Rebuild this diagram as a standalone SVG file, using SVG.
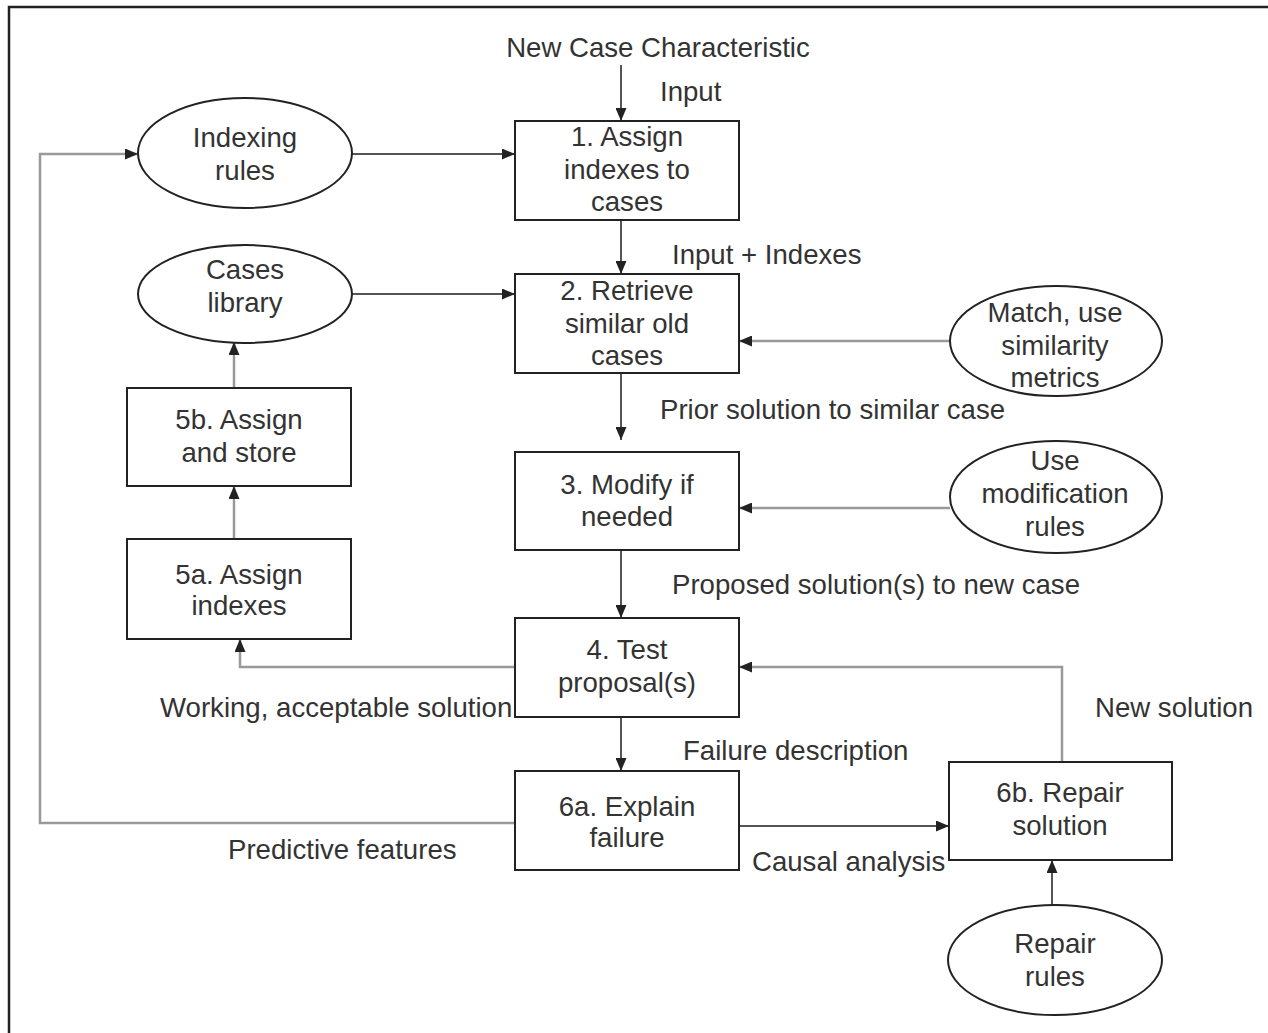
<svg xmlns="http://www.w3.org/2000/svg" width="1268" height="1033" viewBox="0 0 1268 1033">
<style>
.box{fill:#fff;stroke:#222;stroke-width:2}
.ell{fill:#fff;stroke:#222;stroke-width:2}
text{font-family:"Liberation Sans",Arial,sans-serif;font-size:27.6px;fill:#333}
.c{text-anchor:middle}
.d{fill:none;stroke:#555;stroke-width:2}
.l{fill:none;stroke:#999;stroke-width:2.5}
</style>
<defs>
<marker id="ah" markerUnits="userSpaceOnUse" markerWidth="13" markerHeight="11" viewBox="0 0 13 11" refX="13" refY="5.5" orient="auto">
<path d="M0,0 L13,5.5 L0,11 Z" fill="#222"/>
</marker>
</defs>
<rect x="0" y="0" width="1268" height="1033" fill="#fff"/>
<rect x="9" y="7" width="1300" height="1100" fill="none" stroke="#222" stroke-width="2.5"/>

<g id="connectors">
<line class="d" x1="621" y1="65" x2="621" y2="121" marker-end="url(#ah)"/>
<line class="d" x1="352" y1="154" x2="515" y2="154" marker-end="url(#ah)"/>
<line class="d" x1="621" y1="221" x2="621" y2="274" marker-end="url(#ah)"/>
<line class="d" x1="352" y1="294" x2="515" y2="294" marker-end="url(#ah)"/>
<line class="l" x1="950" y1="341" x2="739" y2="341" marker-end="url(#ah)"/>
<line class="d" x1="621" y1="373" x2="621" y2="440" marker-end="url(#ah)"/>
<line class="l" x1="950" y1="508" x2="739" y2="508" marker-end="url(#ah)"/>
<line class="d" x1="621" y1="550" x2="621" y2="618" marker-end="url(#ah)"/>
<polyline class="l" points="515,667 240,667 240,639" marker-end="url(#ah)"/>
<line class="l" x1="234" y1="539" x2="234" y2="486" marker-end="url(#ah)"/>
<line class="l" x1="234" y1="388" x2="234" y2="342" marker-end="url(#ah)"/>
<line class="d" x1="621" y1="717" x2="621" y2="771" marker-end="url(#ah)"/>
<polyline class="l" points="515,823 40,823 40,154 138,154" marker-end="url(#ah)"/>
<line class="d" x1="739" y1="826" x2="949" y2="826" marker-end="url(#ah)"/>
<polyline class="l" points="1062,762 1062,667 739,667" marker-end="url(#ah)"/>
<line class="d" x1="1052" y1="905" x2="1052" y2="860" marker-end="url(#ah)"/>
</g>

<g id="labels">
<text class="c" x="658" y="57">New Case Characteristic</text>
<text x="660" y="101">Input</text>
<text x="672" y="264">Input + Indexes</text>
<text x="660" y="419">Prior solution to similar case</text>
<text x="672" y="594">Proposed solution(s) to new case</text>
<text x="160" y="717">Working, acceptable solution</text>
<text x="1095" y="717">New solution</text>
<text x="683" y="760">Failure description</text>
<text x="228" y="859">Predictive features</text>
<text x="752" y="871">Causal analysis</text>
</g>

<g id="indexing-rules">
<ellipse class="ell" cx="245" cy="153" rx="107" ry="55"/>
<text class="c" x="245" y="147">Indexing</text>
<text class="c" x="245" y="180">rules</text>
</g>
<g id="cases-library">
<ellipse class="ell" cx="245" cy="294" rx="107" ry="49"/>
<text class="c" x="245" y="279">Cases</text>
<text class="c" x="245" y="312">library</text>
</g>
<g id="match">
<ellipse class="ell" cx="1056" cy="341" rx="106" ry="55"/>
<text class="c" x="1055" y="322">Match, use</text>
<text class="c" x="1055" y="355">similarity</text>
<text class="c" x="1055" y="387">metrics</text>
</g>
<g id="modification-rules">
<ellipse class="ell" cx="1056" cy="497" rx="106" ry="56"/>
<text class="c" x="1055" y="470">Use</text>
<text class="c" x="1055" y="503">modification</text>
<text class="c" x="1055" y="536">rules</text>
</g>
<g id="repair-rules">
<ellipse class="ell" cx="1055" cy="960" rx="107" ry="55"/>
<text class="c" x="1055" y="953">Repair</text>
<text class="c" x="1055" y="986">rules</text>
</g>

<g id="step1">
<rect class="box" x="515" y="121" width="224" height="99"/>
<text class="c" x="627" y="146">1. Assign</text>
<text class="c" x="627" y="179">indexes to</text>
<text class="c" x="627" y="211">cases</text>
</g>
<g id="step2">
<rect class="box" x="515" y="274" width="224" height="99"/>
<text class="c" x="627" y="300">2. Retrieve</text>
<text class="c" x="627" y="333">similar old</text>
<text class="c" x="627" y="365">cases</text>
</g>
<g id="step3">
<rect class="box" x="515" y="452" width="224" height="98"/>
<text class="c" x="627" y="494">3. Modify if</text>
<text class="c" x="627" y="526">needed</text>
</g>
<g id="step4">
<rect class="box" x="515" y="618" width="224" height="99"/>
<text class="c" x="627" y="659">4. Test</text>
<text class="c" x="627" y="692">proposal(s)</text>
</g>
<g id="step6a">
<rect class="box" x="515" y="771" width="224" height="99"/>
<text class="c" x="627" y="816">6a. Explain</text>
<text class="c" x="627" y="847">failure</text>
</g>
<g id="step5b">
<rect class="box" x="127" y="388" width="224" height="98"/>
<text class="c" x="239" y="429">5b. Assign</text>
<text class="c" x="239" y="462">and store</text>
</g>
<g id="step5a">
<rect class="box" x="127" y="539" width="224" height="100"/>
<text class="c" x="239" y="584">5a. Assign</text>
<text class="c" x="239" y="615">indexes</text>
</g>
<g id="step6b">
<rect class="box" x="949" y="762" width="223" height="98"/>
<text class="c" x="1060" y="802">6b. Repair</text>
<text class="c" x="1060" y="835">solution</text>
</g>
</svg>
